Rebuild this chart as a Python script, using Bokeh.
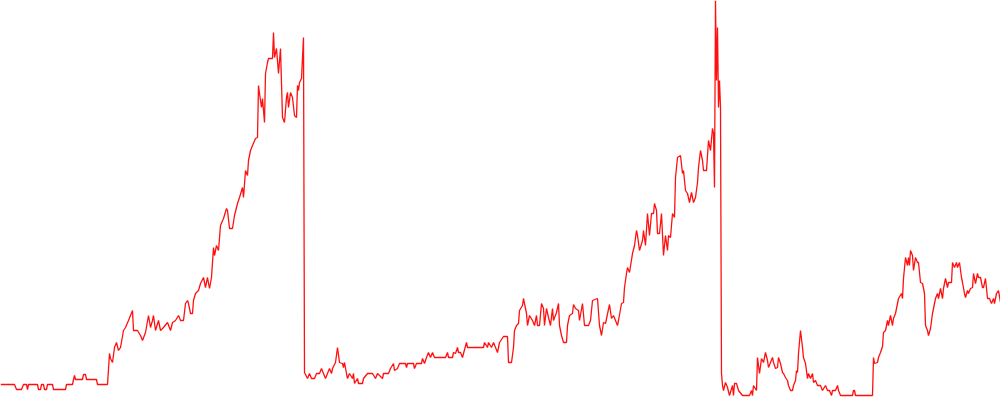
from bokeh.plotting import figure
from bokeh.models import Range1d, ColumnDataSource
from bokeh.embed import file_html
from bokeh.resources import INLINE

day = [
    0, 14, 16, 21, 23, 26, 27, 28, 37, 38, 40, 41, 43, 44, 46, 47, 52, 53, 65, 66, 72, 73, 74, 75, 82, 83, 85, 86, 96, 97, 107,
    109, 110, 112, 114, 116, 118, 120, 123, 125, 128, 130, 132, 133, 137, 140, 142, 145, 148, 150, 152,
    153, 155, 158, 160, 163, 167, 170, 172, 175, 178, 180, 183, 185, 187, 188, 190, 192, 193, 195, 198,
    200, 203, 205, 207, 209, 211, 213, 214, 216, 218, 220, 223, 226, 227, 229, 232, 234, 237, 239, 242,
    243, 245, 247, 248, 250, 252, 255, 257, 258, 259, 261, 262, 264, 265, 267, 268, 272, 273, 274, 276,
    278, 280, 282, 284, 286, 287, 288, 290, 292, 294, 296, 297, 298, 299, 301, 303,
    304, 307, 309, 311, 314, 316, 319, 321, 323, 325, 327, 329, 331, 332, 335, 337, 339, 342, 343, 344,
    346, 347, 349, 352, 353, 354, 357, 358, 362, 363, 367, 372, 375, 377, 382, 383, 388, 390, 393, 394,
    397, 399, 405, 406, 407, 413, 414, 416, 421, 422, 424, 426, 428, 430, 432, 434, 445, 447, 448, 452,
    453, 455, 457, 458, 460, 462, 463, 466, 467, 483, 484, 487, 488, 491, 493, 495, 497, 499,
    503, 507, 508, 511, 513, 514, 516, 518, 519, 522, 523, 526, 527, 529, 532, 534, 536, 537, 539, 541,
    543, 544, 546, 548, 550, 552, 553, 556, 558, 559, 561, 563, 566, 567, 569, 572, 573, 575, 578, 579,
    582, 584, 588, 590, 592, 597, 599, 601, 603, 605, 609, 611, 613, 617, 618, 621, 623,
    624, 626, 627, 629, 632, 634, 636, 637, 639, 642, 643, 645, 647, 649, 651, 653, 654, 656, 657, 659,
    661, 663, 665, 667, 668, 670, 672, 674, 675, 677, 680, 682, 683, 685, 687, 689, 691, 693, 695, 697,
    698, 700, 702, 703, 706, 708, 710, 712, 713, 714, 715, 716, 717, 718, 719, 720,
    721, 722, 723, 725, 727, 729, 732, 733, 734, 736, 738, 742, 749, 751, 752, 753, 756, 757, 759, 761,
    763, 765, 767, 768, 770, 772, 773, 775, 777, 778, 780, 782, 783, 785, 787, 788, 790, 792, 793, 795,
    796, 797, 798, 800, 802, 803, 805, 807, 808, 810, 812, 813, 815, 817, 820, 822, 825, 827, 829, 831,
    832, 835, 837, 838, 840, 852, 853, 854, 855, 872,
    873, 874, 877, 878, 880, 882, 883, 885, 887, 888, 890, 892, 893, 895, 897, 898, 901, 902, 903, 905,
    907, 908, 909, 910, 912, 913, 915, 917, 918, 920, 922, 924, 925, 927, 928, 930, 932, 933, 935, 937,
    938, 940, 942, 943, 945, 947, 948, 951, 952, 954, 956, 957, 959, 961, 962, 964, 965, 967, 968, 970,
    972, 973, 975, 977, 978, 980, 982, 983, 985, 987, 989, 991, 993, 994, 996, 998, 1000,
]

value = [
    16, 16, 11, 11, 16, 16, 11, 16, 16, 11, 11, 16, 16, 11, 11, 16, 16, 11, 11, 16, 16, 21, 25, 21, 21, 26, 26, 21, 21, 16, 16,
    47, 42, 38, 53, 58, 50, 53, 70, 73, 80, 85, 90, 70, 70, 65, 60, 68, 85, 73, 80,
    85, 70, 80, 70, 73, 78, 70, 78, 80, 85, 80, 80, 97, 100, 97, 87, 87, 100, 107, 110,
    117, 123, 113, 123, 112, 123, 153, 145, 155, 150, 175, 182, 192, 190, 172, 172, 185, 197, 203, 213,
    203, 230, 225, 240, 250, 255, 262, 263, 315, 307, 293, 302, 278, 327, 338, 342, 342, 368, 343, 352,
    327, 352, 283, 278, 303, 308, 293, 308, 303, 285, 283, 315, 310, 318, 322, 363,
    28, 22, 27, 22, 22, 27, 27, 32, 27, 22, 27, 32, 27, 32, 38, 53, 38, 37, 33, 38,
    27, 22, 27, 22, 27, 17, 22, 17, 17, 22, 27, 27, 22, 27, 22, 27, 27, 32, 37, 30,
    32, 37, 37, 33, 37, 37, 32, 37, 37, 42, 37, 43, 48, 43, 48, 43, 43, 48, 43, 43,
    48, 47, 53, 48, 48, 43, 47, 58, 53, 53, 58, 53, 58, 53, 58, 53, 48, 58,
    64, 64, 38, 38, 53, 70, 75, 77, 90, 95, 102, 87, 75, 85, 80, 75, 85, 75, 75, 97,
    92, 75, 92, 83, 75, 92, 80, 88, 97, 75, 65, 58, 58, 75, 85, 87, 96, 92, 90, 80,
    97, 75, 75, 80, 100, 102, 75, 65, 78, 77, 96, 82, 85, 75, 80, 97, 98,
    113, 127, 133, 128, 147, 155, 170, 165, 150, 160, 170, 155, 187, 165, 187, 187, 197, 190, 167, 167,
    187, 145, 165, 150, 165, 163, 187, 183, 223, 243, 245, 227, 230, 210, 207, 198, 208, 198, 203, 218,
    233, 250, 240, 230, 230, 260, 250, 272, 267, 213, 400, 320, 373, 293, 320, 293,
    27, 15, 10, 18, 13, 5, 15, 5, 17, 17, 10, 5, 5, 10, 5, 15, 10, 43, 27, 42,
    38, 48, 40, 33, 38, 43, 38, 32, 33, 43, 37, 28, 27, 23, 20, 15, 10, 10, 15, 20,
    30, 28, 47, 70, 53, 43, 37, 22, 27, 22, 27, 18, 20, 15, 15, 10, 15, 10, 10, 5,
    10, 10, 15, 10, 5, 5, 10, 10, 5, 5,
    43, 37, 38, 43, 48, 54, 68, 70, 80, 75, 85, 75, 82, 87, 97, 102, 107, 102, 122, 143,
    135, 143, 135, 150, 145, 130, 143, 138, 138, 118, 117, 107, 75, 70, 65, 72, 87, 92, 102, 107,
    102, 112, 102, 112, 122, 113, 118, 118, 138, 133, 138, 133, 138, 123, 118, 107, 103, 110, 107, 112,
    113, 127, 117, 127, 123, 123, 113, 113, 122, 102, 102, 97, 102, 97, 107, 110, 98,
]

assert len(day) == len(value), (len(day), len(value))

source = ColumnDataSource(data=dict(day=day, value=value))

p = figure(
    width=1000, height=400,
    output_backend="svg", toolbar_location=None,
    x_range=Range1d(0, 1000), y_range=Range1d(0, 400),
    min_border=0, min_border_left=0, min_border_right=0,
    min_border_top=0, min_border_bottom=0,
)
p.line("day", "value", source=source, line_color="#ff1010", line_width=1.3)

p.axis.visible = False
p.grid.visible = False
p.outline_line_color = None
p.background_fill_color = "white"
p.border_fill_color = "white"

open("out.html", "w").write(file_html(p, INLINE))
